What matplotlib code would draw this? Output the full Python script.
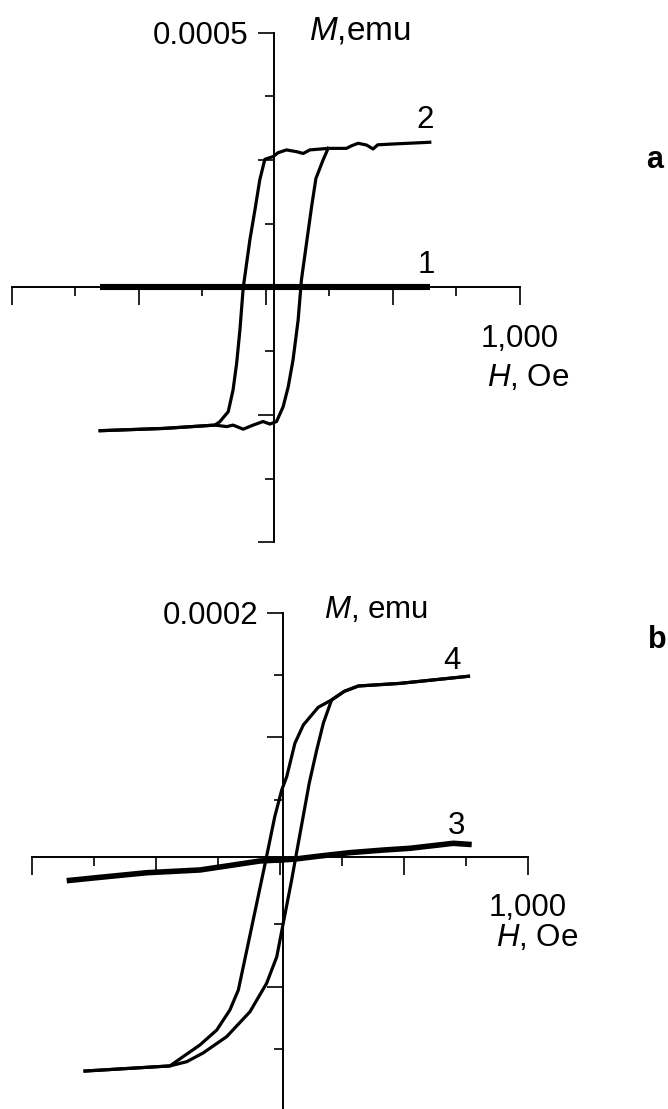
import matplotlib
matplotlib.use("Agg")
import matplotlib.pyplot as plt
from matplotlib.ticker import MultipleLocator, FuncFormatter

plt.rcParams['font.family'] = ['Liberation Sans', 'DejaVu Sans']
plt.rcParams['mathtext.fontset'] = 'custom'
plt.rcParams['mathtext.rm'] = 'Liberation Sans'
plt.rcParams['mathtext.it'] = 'Liberation Sans:italic'

# ---------------- data: panel a ----------------
h1 = [-652, 645]
m1 = [0.0, 0.0]

# curve 2, branch swept with decreasing field (upper branch)
h2_down = [645, 500, 440, 422, 396, 363, 337, 317, 252, 245, 173, 147, 121, 81, 48, 29, -4,
           -24, -43, -63, -83, -89, -102, -115, -129, -148, -181, -200, -400, -652]
m2_down = [2.85e-4, 2.816e-4, 2.80e-4, 2.718e-4, 2.796e-4, 2.83e-4, 2.78e-4, 2.73e-4, 2.73e-4,
           2.73e-4, 2.70e-4, 2.63e-4, 2.665e-4, 2.70e-4, 2.645e-4, 2.57e-4, 2.515e-4,
           2.11e-4, 1.52e-4, 9.3e-5, 2.1e-5, 0.0, -8.3e-5, -1.49e-4, -2.01e-4, -2.437e-4,
           -2.633e-4, -2.70e-4, -2.765e-4, -2.81e-4]
# curve 2, branch swept with increasing field (lower branch)
h2_up = [-652, -400, -200, -154, -129, -89, -50, -11, 16, 42, 68, 88, 107, 127, 140, 160, 180,
         197, 225, 245]
m2_up = [-2.81e-4, -2.765e-4, -2.70e-4, -2.73e-4, -2.70e-4, -2.78e-4, -2.70e-4, -2.63e-4,
         -2.68e-4, -2.63e-4, -2.34e-4, -1.95e-4, -1.42e-4, -6.4e-5, 1.5e-5, 8.7e-5, 1.586e-4,
         2.14e-4, 2.50e-4, 2.73e-4]

# ---------------- data: panel b ----------------
h3 = [-860, -726, -537, -323, -188, -81, 54, 161, 282, 417, 524, 699, 773]
m3 = [-1.5e-5, -1.23e-5, -8.6e-6, -6.4e-6, -2.4e-6, 0.8e-6, 2.2e-6, 4.8e-6, 7.5e-6, 9.6e-6,
      1.1e-5, 1.5e-5, 1.4e-5]

h4_down = [760, 484, 316, 260, 208, 154, 94, 60, 27, 7, -21, -56, -74, -128, -168, -202, -255,
           -323, -391, -444, -786]
m4_down = [1.49e-4, 1.433e-4, 1.412e-4, 1.37e-4, 1.30e-4, 1.241e-4, 1.099e-4, 9.52e-5, 6.84e-5,
           5.78e-5, 3.65e-5, 2.6e-6, -1.44e-5, -6.52e-5, -1.027e-4, -1.187e-4, -1.348e-4,
           -1.468e-4, -1.562e-4, -1.636e-4, -1.677e-4]
h4_up = [-786, -444, -376, -310, -215, -121, -54, -13, 13, 47, 60, 118, 148, 175, 208, 260, 316,
         484, 760]
m4_up = [-1.677e-4, -1.636e-4, -1.602e-4, -1.532e-4, -1.401e-4, -1.201e-4, -9.73e-5, -7.6e-5,
         -4.92e-5, -1.44e-5, 0.0, 6.34e-5, 8.98e-5, 1.115e-4, 1.30e-4, 1.37e-4, 1.412e-4,
         1.433e-4, 1.49e-4]

W, H = 668, 1109
fig = plt.figure(figsize=(W / 100, H / 100), dpi=100)
fig.patch.set_facecolor('white')

FS = 22.5


def fx(px):
    return px / W


def fy(py):
    return 1 - py / H


def setup(ax, ylim, ymaj, ymin, ytop_label, yspine_pos, xspine_pos, xpad, ypad):
    ax.set_xlim(-1000, 1000)
    ax.set_ylim(-ylim, ylim)
    ax.patch.set_visible(False)
    for s in ('top', 'right'):
        ax.spines[s].set_visible(False)
    ax.spines['left'].set_position(('data', yspine_pos))
    ax.spines['bottom'].set_position(('data', xspine_pos))
    for s in ('left', 'bottom'):
        ax.spines[s].set_linewidth(1.4)
    ax.xaxis.set_major_locator(MultipleLocator(500))
    ax.xaxis.set_minor_locator(MultipleLocator(250))
    ax.yaxis.set_major_locator(MultipleLocator(ymaj))
    ax.yaxis.set_minor_locator(MultipleLocator(ymin))
    ax.xaxis.set_major_formatter(FuncFormatter(lambda v, p: '1,000' if abs(v - 1000) < 1e-6 else ''))
    ax.yaxis.set_major_formatter(FuncFormatter(
        lambda v, p: ytop_label if abs(v - ylim) < ylim * 1e-6 else ''))
    ax.tick_params(axis='x', which='major', direction='out', length=13, width=1.2,
                   labelsize=FS, pad=xpad)
    ax.tick_params(axis='x', which='minor', direction='out', length=6.5, width=1.2)
    ax.tick_params(axis='y', which='major', direction='out', length=11.5, width=1.2,
                   labelsize=FS, pad=ypad)
    ax.tick_params(axis='y', which='minor', direction='out', length=6.5, width=1.2)


# ---------------- panel a ----------------
ax_a = fig.add_axes([fx(11.7), fy(542.3), 508.3 / W, 509.6 / H])
setup(ax_a, 0.0005, 0.00025, 0.000125, '0.0005', 31, 0.0, 13.5, 6.5)
ax_a.plot(h1, m1, color='black', lw=4.4, solid_capstyle='butt', zorder=3)
ax_a.plot(h2_down, m2_down, color='black', lw=2.3, zorder=3)
ax_a.plot(h2_up, m2_up, color='black', lw=2.3, zorder=3)
ax_a.text(626, 3.287e-4, '2', fontsize=FS, ha='center', va='center')
ax_a.text(630, 4.4e-5, '1', fontsize=FS, ha='center', va='center')

# ---------------- panel b ----------------
ax_b = fig.add_axes([fx(32), fy(1111.3), 496 / W, 498.6 / H])
setup(ax_b, 0.0002, 0.0001, 0.00005, '0.0002', 13, 4.25e-6, 13, 6)
ax_b.plot(h3, m3, color='black', lw=4.0, solid_capstyle='butt', zorder=3)
ax_b.plot(h4_down, m4_down, color='black', lw=2.3, zorder=3)
ax_b.plot(h4_up, m4_up, color='black', lw=2.3, zorder=3)
ax_b.text(694, 1.613e-4, '4', fontsize=FS, ha='center', va='center')
ax_b.text(710, 2.89e-5, '3', fontsize=FS, ha='center', va='center')

# ---------------- axis titles and panel letters ----------------
fig.text(fx(309), fy(31), r'$M$,emu', fontsize=24, ha='left', va='center')
fig.text(fx(528), fy(378), r'$H$, Oe', fontsize=FS, ha='center', va='center')
fig.text(fx(655), fy(160), 'a', fontsize=22, fontweight='bold', ha='center', va='center')

fig.text(fx(324), fy(610), r'$M$, emu', fontsize=FS, ha='left', va='center')
fig.text(fx(537), fy(938), r'$H$, Oe', fontsize=FS, ha='center', va='center')
fig.text(fx(667), fy(640), 'b', fontsize=22, fontweight='bold', ha='right', va='center')

fig.savefig('out.png', dpi=100, facecolor='white')
